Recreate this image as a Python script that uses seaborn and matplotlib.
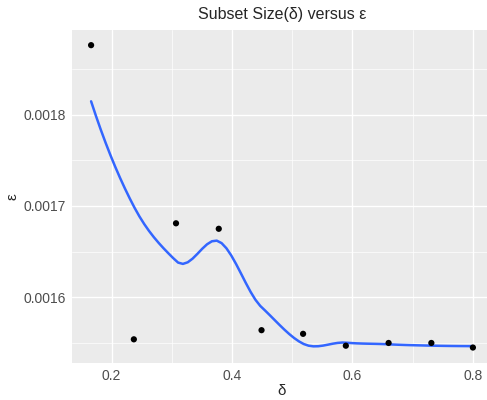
import numpy as np
import pandas as pd
import matplotlib
matplotlib.use('Agg')
import matplotlib.pyplot as plt
from matplotlib.ticker import MultipleLocator, FormatStrFormatter
import seaborn as sns

# values
delta = [0.166, 0.237, 0.307, 0.378, 0.449, 0.518, 0.589, 0.660, 0.731, 0.800]
eps = [0.001876, 0.001554, 0.001681, 0.001675, 0.001564, 0.001560,
       0.001547, 0.001550, 0.001550, 0.001545]

df = pd.DataFrame({'delta': delta, 'eps': eps})


def local_fit(x, y, x0, span=0.75):
    # local quadratic with tricube weights -> value and slope at x0
    q = int(np.floor(len(x) * span))
    d = np.abs(x - x0)
    h = np.sort(d)[q - 1]
    w = np.clip(1 - (d / h) ** 3, 0, None) ** 3
    X = np.column_stack([np.ones_like(x), x - x0, (x - x0) ** 2])
    W = np.diag(w)
    beta = np.linalg.lstsq(X.T @ W @ X, X.T @ W @ y, rcond=None)[0]
    return beta[0], beta[1]


def kd_vertices(xs, lo, hi):
    # 1-d version of loess's kd tree: split cells at the median data point
    verts = {lo, hi}
    stack = [(0, len(xs) - 1, lo, hi)]
    while stack:
        l, u, a, b = stack.pop()
        if u - l + 1 <= 1:
            continue
        m = (l + u) // 2
        v = xs[m]
        if v == a or v == b:
            continue
        verts.add(v)
        stack.append((l, m, a, v))
        stack.append((m + 1, u, v, b))
    return np.array(sorted(verts))


def loess(x, y, grid, span=0.75):
    # R style: fit at kd-tree vertices, then cubic hermite interpolation
    x = np.asarray(x); y = np.asarray(y)
    xs = np.sort(x)
    r = xs[-1] - xs[0]
    verts = kd_vertices(xs, xs[0] - 0.005 * r, xs[-1] + 0.005 * r)
    fits = np.array([local_fit(x, y, v, span) for v in verts])
    val, slope = fits[:, 0], fits[:, 1]
    out = []
    for g in grid:
        i = min(max(np.searchsorted(verts, g) - 1, 0), len(verts) - 2)
        x0, x1 = verts[i], verts[i + 1]
        hh = x1 - x0
        t = (g - x0) / hh
        h00 = 2 * t**3 - 3 * t**2 + 1
        h10 = t**3 - 2 * t**2 + t
        h01 = -2 * t**3 + 3 * t**2
        h11 = t**3 - t**2
        out.append(h00 * val[i] + h10 * hh * slope[i] + h01 * val[i + 1]
                   + h11 * hh * slope[i + 1])
    return np.array(out)


grid = np.linspace(min(delta), max(delta), 80)
smooth = pd.DataFrame({'delta': grid, 'eps': loess(delta, eps, grid)})

sns.set_theme(style='darkgrid', rc={'axes.facecolor': '#EBEBEB',
                                    'grid.color': 'white'})
plt.rcParams['font.family'] = ['Liberation Sans', 'DejaVu Sans']

fig = plt.figure(figsize=(4.87, 4.0), dpi=100)
ax = fig.add_axes([72 / 487, 37.3 / 400, 420 / 487, 332.7 / 400])

sns.lineplot(data=smooth, x='delta', y='eps', color='#3366FF', lw=1.8, ax=ax)
sns.scatterplot(data=df, x='delta', y='eps', color='black', s=20,
                edgecolor='none', ax=ax, zorder=3)

ax.set_xlim(0.1343, 0.8317)
ax.set_ylim(0.0015284, 0.0018926)
ax.xaxis.set_major_locator(MultipleLocator(0.2))
ax.xaxis.set_minor_locator(MultipleLocator(0.1))
ax.yaxis.set_major_locator(MultipleLocator(0.0001))
ax.yaxis.set_minor_locator(MultipleLocator(0.00005))
ax.yaxis.set_major_formatter(FormatStrFormatter('%.4f'))
ax.xaxis.set_major_formatter(FormatStrFormatter('%.1f'))
ax.grid(which='major', color='white', lw=1.0)
ax.grid(which='minor', color='white', lw=0.5)
ax.tick_params(which='major', length=3, width=0.8, color='#333333',
               labelsize=10, labelcolor='#4D4D4D', pad=1.5)
ax.tick_params(which='minor', length=0)
for s in ax.spines.values():
    s.set_visible(False)

ax.set_title('Subset Size(δ) versus ε', fontsize=11.5, pad=8)
ax.set_xlabel('δ', fontsize=11, labelpad=1)
ax.set_ylabel('ε', fontsize=11, labelpad=3)

fig.savefig('out.png', dpi=100)
